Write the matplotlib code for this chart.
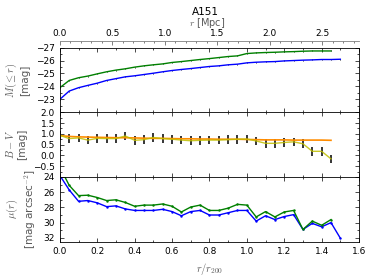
import matplotlib
matplotlib.use('Agg')
import matplotlib.pyplot as plt
from matplotlib.ticker import MultipleLocator, AutoMinorLocator, MaxNLocator, FixedLocator
import numpy as np

plt.rcParams['mathtext.fontset'] = 'cm'
plt.rcParams['xtick.direction'] = 'in'
plt.rcParams['ytick.direction'] = 'in'
plt.rcParams['font.size'] = 6.5

# radius in units of r200, and r200 in Mpc
rr = [0.0, 0.05, 0.1, 0.15, 0.2, 0.25, 0.3, 0.35, 0.4, 0.45, 0.5, 0.55, 0.6, 0.65, 0.7,
      0.75, 0.8, 0.85, 0.9, 0.95, 1.0, 1.05, 1.1, 1.15, 1.2, 1.25, 1.3, 1.35, 1.4, 1.45, 1.5]
r200 = 1.78
mpc_ticks = [0.0, 0.5, 1.0, 1.5, 2.0, 2.5]

# cumulative magnitudes
M_blue = [-23.0, -23.64, -23.9, -24.08, -24.25, -24.46, -24.6, -24.74, -24.82, -24.92, -25.02,
          -25.13, -25.23, -25.31, -25.38, -25.46, -25.54, -25.59, -25.67, -25.72, -25.82,
          -25.87, -25.9, -25.92, -25.97, -26.0, -26.03, -26.05, -26.08, -26.08, -26.1]
M_green = [-23.9, -24.46, -24.67, -24.8, -24.97, -25.13, -25.26, -25.36, -25.49, -25.59, -25.67,
           -25.74, -25.85, -25.92, -26.0, -26.08, -26.15, -26.23, -26.31, -26.36, -26.54,
           -26.59, -26.62, -26.64, -26.67, -26.69, -26.72, -26.74, -26.74, -26.74]

# B-V colour profiles
bv_orange = [0.92, 0.88, 0.86, 0.85, 0.84, 0.83, 0.82, 0.82, 0.81, 0.8, 0.79, 0.79, 0.78, 0.77,
             0.77, 0.76, 0.76, 0.75, 0.75, 0.75, 0.74, 0.73, 0.72, 0.72, 0.72, 0.71, 0.71,
             0.71, 0.71, 0.7]
bv_yellow = [0.93, 0.78, 0.81, 0.71, 0.79, 0.78, 0.78, 0.9, 0.7, 0.73, 0.83, 0.78, 0.75, 0.71,
             0.68, 0.7, 0.71, 0.71, 0.73, 0.75, 0.76, 0.67, 0.56, 0.56, 0.6, 0.63, 0.54,
             0.19, 0.19, -0.16]
bv_err = [0.2] * 30

# surface brightness
mu_blue = [23.8, 25.7, 27.2, 27.1, 27.4, 27.9, 27.8, 28.2, 28.4, 28.4, 28.4, 28.25, 28.55,
           29.1, 28.55, 28.4, 29.0, 29.0, 28.7, 28.4, 28.4, 29.8, 29.1, 29.6, 29.2, 28.95,
           30.9, 30.1, 30.55, 30.0, 32.05]
mu_green = [22.7, 25.1, 26.45, 26.4, 26.7, 27.1, 27.0, 27.35, 27.85, 27.7, 27.7, 27.55, 27.85,
            28.6, 27.95, 27.7, 28.4, 28.4, 28.1, 27.6, 27.7, 29.25, 28.55, 29.25, 28.6, 28.4,
            30.9, 29.8, 30.35, 29.6]

fig, axs = plt.subplots(3, 1, sharex=True, figsize=(3.74, 2.8), dpi=100)
fig.subplots_adjust(left=0.16, right=0.96, bottom=0.137, top=0.83, hspace=0)
ax1, ax2, ax3 = axs
lab = dict(color='0.35', fontsize=7.5)

ax1.errorbar(rr, M_blue, yerr=0.04, color='b', ecolor='k', elinewidth=0.6, lw=1.0)
ax1.errorbar(rr[:30], M_green, yerr=0.04, color='g', ecolor='k', elinewidth=0.6, lw=1.0)
ax1.set_ylim(-22, -27)
ax1.yaxis.set_major_locator(MaxNLocator(6, prune='upper'))
ax1.set_ylabel('$M(\\leq r)$\n[mag]', **lab)

ax2.errorbar(rr[:30], bv_yellow, yerr=bv_err, color='y', ecolor='k', elinewidth=1.3,
             alpha=0.85, lw=1.0)
ax2.plot(rr[:30], bv_orange, color='darkorange', lw=1.2)
ax2.set_ylim(-1, 2)
ax2.yaxis.set_major_locator(MaxNLocator(7, prune='lower'))
ax2.set_ylabel('$B-V$\n[mag]', **lab)

ax3.plot(rr, mu_blue, color='b', marker='.', ms=1.5, lw=1.0)
ax3.plot(rr[:30], mu_green, color='g', marker='.', ms=1.5, lw=1.0)
ax3.set_ylim(32.5, 24)
ax3.yaxis.set_major_locator(MultipleLocator(2))
ax3.set_ylabel('$\\mu(r)$\n[mag arcsec$^{-2}$]', **lab)
ax3.set_xlim(0, 1.6)
ax3.xaxis.set_major_locator(MultipleLocator(0.2))
ax3.set_xlabel('$r/r_{200}$', **lab)

for ax in axs:
    ax.xaxis.set_minor_locator(AutoMinorLocator(2))
    ax.yaxis.set_minor_locator(AutoMinorLocator(2))
    ax.tick_params(which='both', top=True, right=True, labelsize=6.5, width=0.5)
    ax.tick_params(which='major', length=3)
    ax.tick_params(which='minor', length=1.5)
    for s in ax.spines.values():
        s.set_linewidth(0.6)

sec = ax1.secondary_xaxis(1.1, functions=(lambda x: x * r200, lambda x: x / r200))
sec.xaxis.set_major_locator(FixedLocator(mpc_ticks))
sec.xaxis.set_minor_locator(MultipleLocator(0.1))
sec.tick_params(which='both', direction='in', labelsize=6.5, width=0.5, color='0.3', pad=2)
sec.tick_params(which='major', length=3)
sec.tick_params(which='minor', length=1.5)
sec.spines['top'].set_color('0.5')
sec.spines['top'].set_linewidth(0.6)
fig.text(0.555, 0.918, '$r$ [Mpc]', ha='center', va='center', color='0.35', fontsize=7)
fig.text(0.55, 0.957, 'A151', ha='center', va='center', fontsize=7.5)

fig.savefig('out.png', dpi=100)
